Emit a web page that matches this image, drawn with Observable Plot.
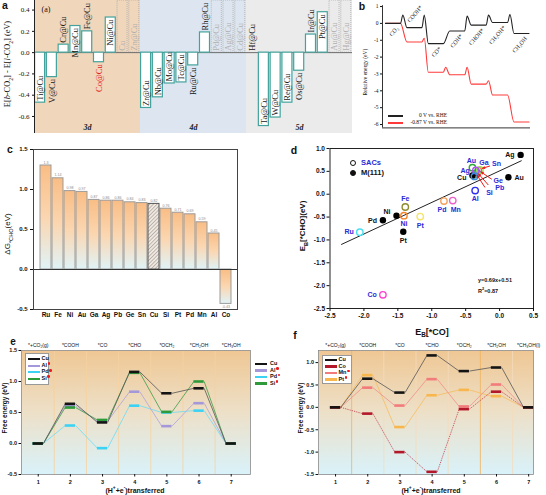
<!DOCTYPE html>
<html><head><meta charset="utf-8">
<script src="https://cdn.jsdelivr.net/npm/d3@7"></script>
<script src="https://cdn.jsdelivr.net/npm/@observablehq/plot@0.6"></script>
<style>
html,body{margin:0;padding:0;background:#fff;}
#fig{position:relative;width:546px;height:495px;overflow:hidden;background:#fff;font-family:"Liberation Sans",Arial,sans-serif;color:#111;}
#fig > svg{position:absolute;overflow:visible;}
.t{position:absolute;white-space:nowrap;line-height:1;}
.t sub,.t sup{font-size:70%;line-height:0;}
</style></head><body><div id="fig"></div>
<script>
// ---------------- DATA ----------------
// (a) adsorption energy difference per single-atom dopant
const aElements = ["Ti","V","Cr","Mn","Fe","Co","Ni","Cu","Zn","Zr","Nb","Mo","Tc","Ru","Rh","Pd","Ag","Cd","Hf","Ta","W","Re","Os","Ir","Pt","Au","Hg"];
const aValues   = [-0.47,-0.23,0.075,0.25,0.20,-0.09,0.33,null,null,-0.52,-0.42,-0.29,-0.28,-0.12,0.19,null,null,null,0,-0.69,-0.61,-0.47,-0.17,0.17,0.38,null,null];
const aGroups   = ["3d","4d","5d"];
const aTicks    = [-0.6,-0.4,-0.2,0,0.2,0.4];
// (b) reaction path energies
const bStates     = ["CO₂","COOH*","CO*","COH*","CHOH*","CH₂OH*","CH₃OH"];
const bLevels0    = [0,-0.25,-1.2,-0.45,-0.1,0.05,-0.6];
const bBarriers0  = [0.49,0.49,null,0.43,0.49,0.53];
const bLevels087  = [0,-1.1,-2.9,-3.05,-3.6,-4.25,-5.85];
const bBarriers087= [null,-0.88,-2.6,-2.6,-3.4,null];
const bTicks      = [1,0,-1,-2,-3,-4,-5,-6];
// (c) ΔG*CHO
const cMetals = ["Ru","Fe","Ni","Au","Ga","Ag","Pb","Ge","Sn","Cu","Si","Pt","Pd","Mn","Al","Co"];
const cDeltaG = [1.30,1.14,0.98,0.97,0.87,0.86,0.86,0.84,0.83,0.82,0.76,0.71,0.69,0.59,0.45,-0.43];
const cTicks  = [-0.5,0,0.5,1.0,1.5];
// (d) scaling relation
const dSacNames = ["Ru","Fe","Ni","Pt","Pd","Mn","Co","Al","Au","Ga","Ag","Cu","Sn","Ge","Pb","Si"];
const dSacX     = [-2.06,-1.39,-1.41,-1.17,-0.82,-0.69,-1.72,-0.36,-0.40,-0.29,-0.35,-0.37,-0.31,-0.33,-0.35,-0.37];
const dSacY     = [-0.83,-0.28,-0.47,-0.49,-0.15,-0.14,-2.20,0.08,0.58,0.53,0.52,0.39,0.52,0.47,0.44,0.42];
const dM111Names= ["Ag","Au","Cu","Ni","Pd","Pt"];
const dM111X    = [0.31,0.13,-0.40,-1.52,-1.72,-1.42];
const dM111Y    = [0.86,0.37,0.41,-0.47,-0.57,-0.82];
const dFitSlope = 0.69, dFitIntercept = 0.51, dFitR2 = 0.87;
const dFitRange = [-2.33,0.32];
const dTicksX   = [-2.5,-2.0,-1.5,-1.0,-0.5,0,0.5];
const dTicksY   = [-2.5,-2.0,-1.5,-1.0,-0.5,0,0.5,1.0];
// (e),(f) free energy diagrams
const steps    = [1,2,3,4,5,6,7];
const eSpecies = ["*+CO₂(g)","*COOH","*CO","*CHO","*OCH₂","*CH₂OH","*CH₃OH"];
const fSpecies = ["*+CO₂(g)","*COOH","*CO","*CHO","*OCH₂","*CH₂OH","*CH₃OH(l)"];
const eCu = [0,0.64,0.34,1.155,0.81,0.89,0];
const eAl = [0,0.61,0.36,0.835,0.28,0.65,0];
const ePd = [0,0.29,-0.075,0.61,0.50,0.53,0];
const eSi = [0,0.58,0.38,1.14,0.51,1.00,0];
const eTicks = [-0.5,0,0.5,1.0,1.5];
const fCu = [0,0.64,0.33,1.16,0.81,0.89,0];
const fCo = [0,-0.14,-1.00,-1.44,-0.04,0.35,0];
const fMn = [0,0.44,0.04,0.63,0.02,0.51,0];
const fPt = [0,0.72,-0.44,0.27,0.39,0.25,0];
const fTicks = [-1.5,-1.0,-0.5,0,0.5,1.0];

// ---------------- HELPERS ----------------
const fig = document.getElementById("fig");
const SANS = "Liberation Sans, Arial, sans-serif";
const SERIF = "Liberation Serif, Times New Roman, serif";
const f1 = d => d.toFixed(1);
fig.insertAdjacentHTML("beforeend", `<svg width="0" height="0" style="position:absolute;left:0;top:0"><defs>
<linearGradient id="cgrad" x1="0" y1="0" x2="0" y2="1"><stop offset="0" stop-color="#f9bd85"/><stop offset="0.5" stop-color="#fbd6b0"/><stop offset="1" stop-color="#e0f3f7"/></linearGradient>
<pattern id="hatch" width="2.6" height="2.6" patternUnits="userSpaceOnUse" patternTransform="rotate(45)"><rect width="2.6" height="2.6" fill="#f1e8df"/><line x1="0" y1="0" x2="0" y2="2.6" stroke="#6f6f6f" stroke-width="0.8"/></pattern>
<linearGradient id="bggrad" x1="0" y1="0" x2="0" y2="1"><stop offset="0" stop-color="#efc794"/><stop offset="0.5" stop-color="#ede0c8"/><stop offset="1" stop-color="#d9f2fa"/></linearGradient>
</defs></svg>`);
function place(svg, left, top){ svg.style.left = left+"px"; svg.style.top = top+"px"; svg.style.background="transparent"; svg.style.maxWidth="none"; fig.appendChild(svg); }
function txt(html, x, y, css = {}, rot = 0, anchor = "center"){
  const d = document.createElement("div"); d.className = "t"; d.innerHTML = html;
  const tx = anchor === "left" ? "0" : anchor === "right" ? "-100%" : "-50%";
  Object.assign(d.style, {left:x+"px", top:y+"px", transform:`translate(${tx},-50%) rotate(${rot}deg)`}, css);
  fig.appendChild(d); return d;
}
function hline(x, y, w, color, h = 2){
  const d = document.createElement("div");
  Object.assign(d.style,{position:"absolute",left:x+"px",top:(y-h/2)+"px",width:w+"px",height:h+"px",background:color});
  fig.appendChild(d);
}
function dot(x, y, r, color){
  const d = document.createElement("div");
  Object.assign(d.style,{position:"absolute",left:(x-r)+"px",top:(y-r)+"px",width:(2*r)+"px",height:(2*r)+"px",borderRadius:"50%",background:color});
  fig.appendChild(d);
}
const baseStyle = fam => ({fontFamily:fam, background:"transparent", overflow:"visible"});

// ---------------- PANEL A ----------------
const aData = aElements.map((el,i)=>({i, el, v:aValues[i], text: el==="Cu" ? "Cu" : el+"@Cu"}));
const aYdom = [-0.76, 0.49];
const A_IN = 0.245;
const aHas = aData.filter(d=>d.v!=null), aNull = aData.filter(d=>d.v==null);
const aUp = aHas.filter(d=>(d.v>=0 && d.v<A_IN) || d.v<=-A_IN);
const aDown = aHas.filter(d=>d.v>=A_IN || (d.v<0 && d.v>-A_IN));
const aBandFill = ["#f0d6bb","#dde6f0","#ebebeb"];
const aBands = aGroups.map((g,k)=>({g, k, x1:k*9, x2:(k+1)*9}));
const labColor = d => d.el==="Co" ? "#e3141b" : "#151515";
const pa = Plot.plot({
  width:355, height:135, marginLeft:34, marginRight:3, marginTop:0, marginBottom:2,
  x:{domain:[0,27], axis:null}, y:{domain:aYdom}, color:{type:"identity"},
  style: baseStyle(SERIF),
  marks:[
    Plot.rect(aBands,{x1:"x1",x2:"x2",y1:()=>aYdom[0],y2:()=>aYdom[1],fill:d=>aBandFill[d.k]}),
    Plot.rect(aNull,{x1:d=>d.i+0.05,x2:d=>d.i+0.9,y1:()=>0,y2:()=>aYdom[1],fill:"none",stroke:"#a9a9a9",strokeWidth:0.8,strokeDasharray:"1,1"}),
    Plot.ruleY([0],{stroke:"#6d6d6d",strokeWidth:1}),
    Plot.rect(aHas,{x1:d=>d.i+0.05,x2:d=>d.i+0.9,y1:()=>0,y2:"v",fill:"white",stroke:"#43a39c",strokeWidth:1.2}),
    Plot.text(aUp,{x:d=>d.i+0.475,y:"v",text:"text",rotate:-90,textAnchor:"start",dy:-2,fill:labColor,fontSize:8.5}),
    Plot.text(aDown,{x:d=>d.i+0.475,y:"v",text:"text",rotate:-90,textAnchor:"end",dy:2,fill:labColor,fontSize:8.5}),
    Plot.text(aNull,{x:d=>d.i+0.475,y:()=>0,text:"text",rotate:-90,textAnchor:"start",dy:-2,fill:"#b0b0b0",fontSize:8.5}),
    Plot.text(aBands,{x:d=>(d.x1+d.x2)/2,y:()=>aYdom[0],text:"g",dy:-6,fontStyle:"italic",fontWeight:"bold",fontSize:8,fill:"#222"}),
    Plot.ruleX([0],{stroke:"#222",strokeWidth:1}),
    Plot.axisY({ticks:aTicks,tickFormat:f1,tickSize:2,tickPadding:3,fontSize:7,label:null})
  ]
});
place(pa, 0, 0);

// ---------------- PANEL B ----------------
function profile(levels, barriers){
  const pts = [];
  levels.forEach((L,i)=>{
    pts.push({x:i,y:L}); pts.push({x:i+0.7,y:L});
    if (i < levels.length-1 && barriers[i] != null) pts.push({x:i+0.81,y:barriers[i]});
  });
  return pts;
}
const bYdom = [-6.2, 1.05], bXdom = [-0.14, 6.77];
const bLab = bStates.map((s,i)=>({s,i,L:bLevels0[i]}));
const pb = Plot.plot({
  width:206, height:135, marginLeft:42, marginRight:16, marginTop:5.2, marginBottom:7.6,
  x:{domain:bXdom, axis:null}, y:{domain:bYdom}, color:{type:"identity"},
  style: baseStyle(SERIF),
  marks:[
    Plot.line(profile(bLevels087,bBarriers087),{x:"x",y:"y",curve:"monotone-x",stroke:"#ff3a3a",strokeWidth:1.1}),
    Plot.line(profile(bLevels0,bBarriers0),{x:"x",y:"y",curve:"monotone-x",stroke:"#222",strokeWidth:1.1}),
    Plot.text(bLab.filter(d=>d.s!=="COOH*"),{x:d=>d.i+0.55,y:"L",text:"s",rotate:-50,textAnchor:"end",dy:4,fontSize:6,fill:"#222"}),
    Plot.text(bLab.filter(d=>d.s==="COOH*"),{x:d=>d.i+0.07,y:"L",text:"s",rotate:-50,textAnchor:"start",dy:-6,fontSize:6,fill:"#222"}),
    Plot.ruleX([bXdom[0]],{stroke:"#333",strokeWidth:1}),
    Plot.ruleY([bYdom[0]],{stroke:"#333",strokeWidth:1}),
    Plot.axisY({ticks:bTicks,tickFormat:d=>String(d),tickSize:2,tickPadding:2,fontSize:5.5,label:null})
  ]
});
place(pb, 340, 0);

// ---------------- PANEL C ----------------
const cData = cMetals.map((m,i)=>({m, g:cDeltaG[i]}));
const pc = Plot.plot({
  width:270, height:180, marginLeft:33, marginRight:33, marginTop:9, marginBottom:11,
  x:{domain:cMetals, paddingInner:0.11, paddingOuter:0.28}, y:{domain:[-0.5,1.5]}, color:{type:"identity"},
  style: baseStyle(SANS),
  marks:[
    Plot.barY(cData.filter(d=>d.m!=="Cu"),{x:"m",y:"g",fill:"url(#cgrad)",stroke:"#9b9b9b",strokeWidth:1}),
    Plot.barY(cData.filter(d=>d.m==="Cu"),{x:"m",y:"g",fill:"url(#hatch)",stroke:"#555",strokeWidth:1}),
    Plot.text(cData.filter(d=>d.g>=0),{x:"m",y:"g",text:d=>String(+d.g.toFixed(2)),dy:-3,fontSize:3.6,fill:"#8a8a8a"}),
    Plot.text(cData.filter(d=>d.g<0),{x:"m",y:"g",text:d=>String(+d.g.toFixed(2)),dy:3,fontSize:3.6,fill:"#8a8a8a"}),
    Plot.ruleY([0],{stroke:"#333",strokeWidth:1}),
    Plot.frame({stroke:"#444",strokeWidth:1}),
    Plot.axisY({ticks:cTicks,tickFormat:f1,tickSize:3,tickPadding:3,fontSize:6,fontWeight:"bold",label:null}),
    Plot.axisX({tickSize:0,tickPadding:3,fontSize:6.5,fontWeight:"bold",label:null})
  ]
});
place(pc, 0, 140);

// ---------------- PANEL D ----------------
const sacColor = {Ru:"#49dff0",Fe:"#8c8c2c",Ni:"#f5862a",Pt:"#f2e56a",Pd:"#f5a05a",Mn:"#ee62c8",Co:"#ff40d0",Al:"#2e2ef2",Au:"#2ea83a",Ga:"#9be05a",Ag:"#b050f0",Cu:"#3a8ee0",Sn:"#e07030",Ge:"#6060c0",Pb:"#8080a0",Si:"#50a0a0"};
const sac = dSacNames.map((n,i)=>({n,x:dSacX[i],y:dSacY[i]}));
const m111 = dM111Names.map((n,i)=>({n,x:dM111X[i],y:dM111Y[i]}));
const fitPts = dFitRange.map(x=>({x, y:dFitSlope*x+dFitIntercept}));
const BLUE = "#2a2ad8";
// label placement (direction offsets in px)
const sacLab = {Ru:[-6,0,"end"],Fe:[0,-8,"middle"],Ni:[0,8,"middle"],Pt:[0,9,"middle"],Pd:[-2,9,"middle"],Mn:[3,9,"middle"],Co:[-6,0,"end"],Al:[0,8,"middle"],Au:[-1,-7,"middle"],Ga:[4,-7,"middle"],Ag:[-6,0,"end"],Sn:[18,-7,"middle"],Ge:[21,8.5,"middle"],Pb:[24,14,"middle"],Si:[15,18,"middle"]};
const mLab = {Ag:[-6,0,"end"],Au:[6,0,"start"],Cu:[-6,2,"end"],Ni:[-6,-4,"end"],Pd:[-6,0,"end"],Pt:[0,9,"middle"]};
const arrowSpec = {Sn:[12,-4,4,-1.5],Ge:[15,7,4,-0.5],Pb:[13,11.4,3,0],Si:[11,13,3,0.5]};
const NS = "http://www.w3.org/2000/svg";
const arrowMark = (index, scales) => {
  const g = document.createElementNS(NS,"g");
  for (const d of sac) {
    const a = arrowSpec[d.n]; if (!a) continue;
    const X = scales.x(d.x), Y = scales.y(d.y);
    const x1 = X+a[0], y1 = Y+a[1], x2 = X+a[2], y2 = Y+a[3];
    const ln = document.createElementNS(NS,"line");
    ln.setAttribute("x1",x1); ln.setAttribute("y1",y1); ln.setAttribute("x2",x2); ln.setAttribute("y2",y2);
    ln.setAttribute("stroke","#f01818"); ln.setAttribute("stroke-width","1");
    g.appendChild(ln);
    const ang = Math.atan2(y2-y1,x2-x1), L = 3, W = 1.6;
    const p = [[x2,y2],[x2-L*Math.cos(ang)+W*Math.sin(ang), y2-L*Math.sin(ang)-W*Math.cos(ang)],[x2-L*Math.cos(ang)-W*Math.sin(ang), y2-L*Math.sin(ang)+W*Math.cos(ang)]];
    const pg = document.createElementNS(NS,"polygon");
    pg.setAttribute("points", p.map(q=>q.join(",")).join(" ")); pg.setAttribute("fill","#f01818");
    g.appendChild(pg);
  }
  return g;
};
const dMarks = [
  Plot.frame({stroke:"#222",strokeWidth:1}),
  Plot.axisX({ticks:dTicksX,tickFormat:f1,tickSize:3,tickPadding:2,fontSize:6.5,fontWeight:"bold",label:null}),
  Plot.axisY({ticks:dTicksY,tickFormat:f1,tickSize:3,tickPadding:2,fontSize:6.5,fontWeight:"bold",label:null}),
  Plot.line(fitPts,{x:"x",y:"y",stroke:"#222",strokeWidth:1}),
  Plot.dot(sac.filter(d=>["Sn","Ge","Pb","Si"].includes(d.n)),{x:"x",y:"y",r:3,stroke:d=>sacColor[d.n],strokeWidth:1.3,fill:"none"}),
  Plot.dot(m111,{x:"x",y:"y",r:3.2,fill:"#000"}),
  Plot.dot(sac.filter(d=>!["Sn","Ge","Pb","Si"].includes(d.n)),{x:"x",y:"y",r:3.2,stroke:d=>sacColor[d.n],strokeWidth:1.4,fill:"none"}),
  arrowMark
];
for (const d of sac) { const o = sacLab[d.n]; if (!o) continue;
  dMarks.push(Plot.text([d],{x:"x",y:"y",text:"n",dx:o[0],dy:o[1],textAnchor:o[2],fill:BLUE,fontWeight:"bold",fontSize:7})); }
for (const d of m111) { const o = mLab[d.n];
  dMarks.push(Plot.text([d],{x:"x",y:"y",text:"n",dx:o[0],dy:o[1],textAnchor:o[2],fill:"#111",fontWeight:"bold",fontSize:7})); }
const pdp = Plot.plot({
  width:266, height:185, marginLeft:49.5, marginRight:13, marginTop:8, marginBottom:17,
  x:{domain:[-2.5,0.5]}, y:{domain:[-2.5,1.0]}, color:{type:"identity"},
  style: baseStyle(SANS), marks: dMarks
});
place(pdp, 280, 140);

// ---------------- PANELS E, F ----------------
function energyPlot({series, species, yDom, xDom, ticks, width, height, ml, mr, guides}){
  const hw = 0.16, marks = [Plot.frame({fill:"url(#bggrad)",stroke:null})];
  marks.push(Plot.ruleX(steps.slice(0,-1).map(s=>s+0.5),{stroke:d=>guides(d),strokeWidth:0.8}));
  for (const s of series) {
    const segs = s.v.slice(0,-1).map((v,i)=>({x1:steps[i]+hw,y1:v,x2:steps[i+1]-hw,y2:s.v[i+1]}));
    marks.push(Plot.link(segs,{x1:"x1",y1:"y1",x2:"x2",y2:"y2",stroke:s.line,strokeWidth:0.8,strokeDasharray:s.dash||null}));
  }
  for (const s of series) {
    const bars = s.v.map((v,i)=>({x1:steps[i]-hw,x2:steps[i]+hw,y:v}));
    marks.push(Plot.ruleY(bars,{x1:"x1",x2:"x2",y:"y",stroke:s.color,strokeWidth:2.6}));
  }
  marks.push(Plot.frame({stroke:"#8a8a8a",strokeWidth:0.8}));
  marks.push(Plot.axisY({ticks,tickFormat:f1,tickSize:2.5,tickPadding:2,fontSize:5.5,fontWeight:"bold",label:null}));
  marks.push(Plot.axisX({ticks:steps,tickFormat:d=>String(d),tickSize:2.5,tickPadding:3,fontSize:5.5,fontWeight:"bold",label:null}));
  marks.push(Plot.axisX({anchor:"top",ticks:steps,tickFormat:d=>species[d-1],tickSize:0,tickPadding:4,fontSize:5,label:null}));
  return Plot.plot({width,height,marginLeft:ml,marginRight:mr,marginTop:30,marginBottom:21,
    x:{domain:xDom}, y:{domain:yDom}, color:{type:"identity"}, style:baseStyle(SANS), marks});
}
const pe = energyPlot({
  series:[{v:ePd,color:"#3cd2f4",line:"#6cdcf3"},{v:eAl,color:"#a497da",line:"#ada3d9"},{v:eSi,color:"#2e9a3a",line:"#3e9c48"},{v:eCu,color:"#141414",line:"#555"}],
  species:eSpecies, yDom:[-0.5,1.5], xDom:[0.48,7.6], ticks:eTicks, width:270, height:175, ml:21, mr:20,
  guides:()=>"#f6d2a0"
});
place(pe, 0, 320);
const pf = energyPlot({
  series:[{v:fPt,color:"#f9b64c",line:"#f6bc62"},{v:fMn,color:"#f27b7b",line:"#f08e8e"},{v:fCo,color:"#b3172a",line:"#c0394a",dash:"1.3,1"},{v:fCu,color:"#141414",line:"#555"}],
  species:fSpecies, yDom:[-1.5,1.27], xDom:[0.47,7.15], ticks:fTicks, width:266, height:175, ml:38, mr:13,
  guides:d=>(d===1.5||d===5.5)?"#efb360":"#f5dcbc"
});
place(pf, 280, 320);

// ---------------- TEXT OVERLAYS ----------------
const L = {fontWeight:"bold",fontSize:"10.5px",fontFamily:SANS};
txt("a",5,5,L); txt("b",362,6,L); txt("c",10,149,L); txt("d",294,150,L);
txt("e",13,342,{...L,fontSize:"10px"}); txt("f",295,335,L);
// a
txt("(a)",46,10,{fontFamily:SERIF,fontSize:"8px"});
txt("E[<i>b</i>-CO<sub>2</sub>] - E[<i>l</i>-CO<sub>2</sub>] (eV)",8,64,{fontFamily:SERIF,fontSize:"8.3px"},-90);
// b
txt("Relative energy (eV)",366,72,{fontFamily:SERIF,fontSize:"5.6px"},-90);
hline(388,116,15,"#222",1.3); hline(388,123,15,"#ff3a3a",1.3);
txt("0 V vs. RHE",447,116,{fontFamily:SERIF,fontSize:"5.5px"},0,"right");
txt("-0.87 V vs. RHE",447,123,{fontFamily:SERIF,fontSize:"5.5px"},0,"right");
// c
txt("ΔG<sub>*CHO</sub>(eV)",8,234,{fontFamily:SANS,fontSize:"8px"},-90);
// d
txt("E<sub>B</sub>[*CHO](eV)",303,226,{fontFamily:SANS,fontSize:"8px",fontWeight:"bold"},-90);
txt("E<sub>B</sub>[*CO]",432,332,{fontFamily:SANS,fontSize:"9px",fontWeight:"bold"});
const circ = (x,y,filled)=>{const d=document.createElement("div");Object.assign(d.style,{position:"absolute",left:(x-3.2)+"px",top:(y-3.2)+"px",width:"4.4px",height:"4.4px",borderRadius:"50%",border:"1.2px solid #111",background:filled?"#111":"transparent"});fig.appendChild(d);};
circ(353,163,false); circ(353,173,true);
txt("SACs",361,163,{fontFamily:SANS,fontSize:"7.5px",fontWeight:"bold",color:BLUE},0,"left");
txt("M(111)",361,173,{fontFamily:SANS,fontSize:"7.5px",fontWeight:"bold",color:"#111"},0,"left");
txt(`y=${dFitSlope}x+${dFitIntercept}`,478,281,{fontFamily:SANS,fontSize:"5.5px",fontWeight:"bold"},0,"left");
txt(`R<sup>2</sup>=${dFitR2}`,478,292,{fontFamily:SANS,fontSize:"5.5px",fontWeight:"bold"},0,"left");
// e, f titles
const ft = {fontFamily:SANS,fontSize:"6.5px",fontWeight:"bold"};
txt("Free energy (eV)",5,408,ft,-90); txt("Free energy (eV)",301,408,ft,-90);
const xt = {fontFamily:SANS,fontSize:"7px",fontWeight:"bold"};
txt("(H<sup>+</sup>+e<sup>-</sup>)transferred",135,490,xt); txt("(H<sup>+</sup>+e<sup>-</sup>)transferred",431,490,xt);
// legends
function legend(box, rows, lineX, lineW, textX, entries){
  if (box){const b=document.createElement("div");Object.assign(b.style,{position:"absolute",left:box[0]+"px",top:box[1]+"px",width:box[2]+"px",height:box[3]+"px",background:"#fff",border:"0.6px solid #999",boxSizing:"border-box"});fig.appendChild(b);}
  entries.forEach((e,k)=>{
    hline(lineX,rows[k],lineW,e.c,2.2);
    const t = txt(e.n,textX,rows[k],{fontFamily:SANS,fontSize:"5.5px",fontWeight:"bold"},0,"left");
    if (e.star) dot(textX + t.getBoundingClientRect().width + 1.8, rows[k]-2, 1.3, "#f01818");
  });
}
const eLeg = [{n:"Cu",c:"#141414"},{n:"Al",c:"#a497da",star:1},{n:"Pd",c:"#3cd2f4",star:1},{n:"Si",c:"#2e9a3a",star:1}];
legend([25,353,24,32],[359.3,365.7,372.3,378.7],27.5,12.5,41.5,eLeg);
legend(null,[364,370.5,377,383.5],255,12,270,eLeg);
legend([321.7,355,30,28.5],[360,366.5,373,379.5],325,12,338.5,[{n:"Cu",c:"#141414"},{n:"Co",c:"#b3172a"},{n:"Mn",c:"#f27b7b",star:1},{n:"Pt",c:"#f9b64c",star:1}]);
</script></body></html>
